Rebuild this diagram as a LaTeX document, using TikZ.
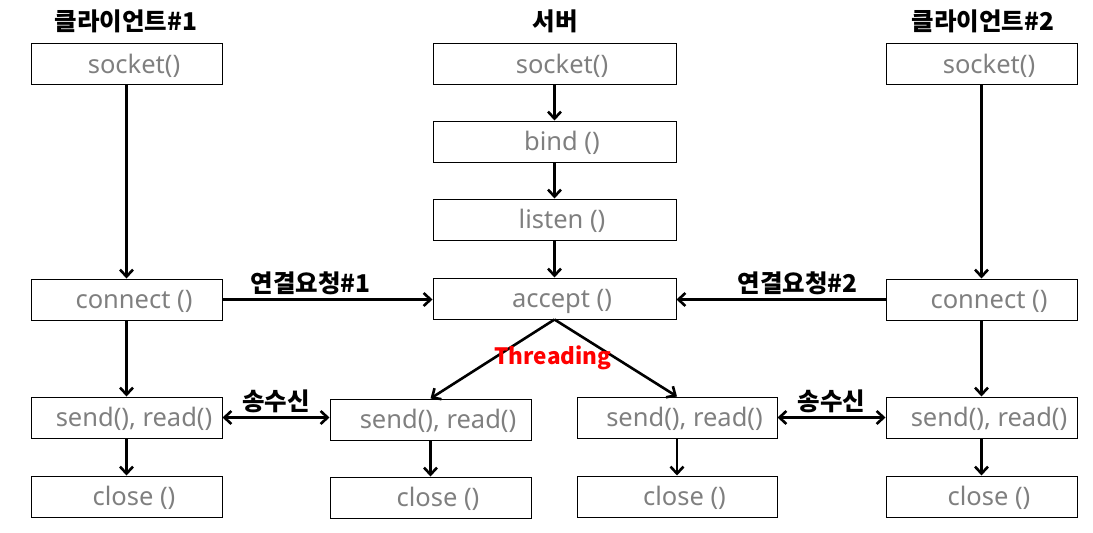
\documentclass[tikz,border=0pt]{standalone}
\usepackage{fontspec}
\setmainfont{Noto Sans}
\newfontfamily\kr{Noto Sans CJK KR}
\usetikzlibrary{arrows.meta}
\definecolor{boxgray}{RGB}{127,127,127}
\definecolor{threadred}{RGB}{255,0,0}

\begin{document}
\begin{tikzpicture}[x=1pt, y=-1pt, >={Straight Barb[length=7pt,width=13pt]},
    box/.style={draw, line width=1pt, minimum width=191pt, minimum height=41pt, inner sep=0pt, text=boxgray,
      text height=22pt, text depth=4pt,
      font=\fontsize{25.5}{27}\selectfont, execute at begin node=\hspace*{15pt}},
    title/.style={font=\kr\bfseries\fontsize{24.5}{26}\selectfont},
    flow/.style={->, line width=2.6pt}]
    \useasboundingbox (0,0) rectangle (1093,533);

    % Titulos
    \node[title] (title1) at (126,21) {클라이언트\#1};
    \node[title] (titles) at (555,21) {서버};
    \node[title] (title2) at (983,21) {클라이언트\#2};

    % Cliente 1
    \node[box] (socket1) at (126.5,64) {socket()};
    \node[box] (connect1) at (126.5,299.5) {connect ()};
    \node[box] (send1) at (126.5,417.5) {send(), read()};
    \node[box] (close1) at (126.5,496.5) {close ()};

    % Servidor
    \node[box, minimum width=243pt] (sockets) at (554.5,64) {socket()};
    \node[box, minimum width=243pt] (bind) at (554.5,141.5) {bind ()};
    \node[box, minimum width=243pt] (listen) at (554.5,219.5) {listen ()};
    \node[box, minimum width=243pt] (accept) at (554.5,298.5) {accept ()};

    % Hilos
    \node[box, minimum width=201pt] (sendA) at (430.5,419.5) {send(), read()};
    \node[box, minimum width=201pt] (closeA) at (430.5,497.5) {close ()};
    \node[box, minimum width=200pt] (sendB) at (677,417.5) {send(), read()};
    \node[box, minimum width=200pt] (closeB) at (677,496.5) {close ()};

    % Cliente 2
    \node[box] (socket2) at (981.5,64) {socket()};
    \node[box] (connect2) at (981.5,299.5) {connect ()};
    \node[box] (send2) at (981.5,417.5) {send(), read()};
    \node[box] (close2) at (981.5,496.5) {close ()};

    % Flechas
    \draw[flow] (socket1) -- (connect1);
    \draw[flow] (connect1) -- (send1);
    \draw[flow] (send1) -- (close1);
    \draw[flow] (sockets) -- (bind);
    \draw[flow] (bind) -- (listen);
    \draw[flow] (listen) -- (accept);
    \draw[flow] (sendA) -- (closeA);
    \draw[flow] (sendB) -- (closeB);
    \draw[flow] (socket2) -- (connect2);
    \draw[flow] (connect2) -- (send2);
    \draw[flow] (send2) -- (close2);

    % Conexiones
    \draw[flow] (connect1.east) -- node[title, above=0pt, pos=0.42] {연결요청\#1} (accept.west |- connect1.east);
    \draw[flow] (connect2.west) -- node[title, above=0pt, pos=0.42] {연결요청\#2} (accept.east |- connect2.west);
    \draw[flow] (accept.south) -- (sendA.north);
    \draw[flow] (accept.south) -- (sendB.north);
    \node[font=\kr\bfseries\fontsize{22.5}{24}\selectfont, text=threadred] (thread) at (553,358) {Threading};

    % Envio y recepcion
    \draw[flow, <->] (send1.east) -- node[title, above=0pt] {송수신} (sendA.west |- send1.east);
    \draw[flow, <->] (sendB.east) -- node[title, above=0pt] {송수신} (send2.west);
\end{tikzpicture}
\end{document}
